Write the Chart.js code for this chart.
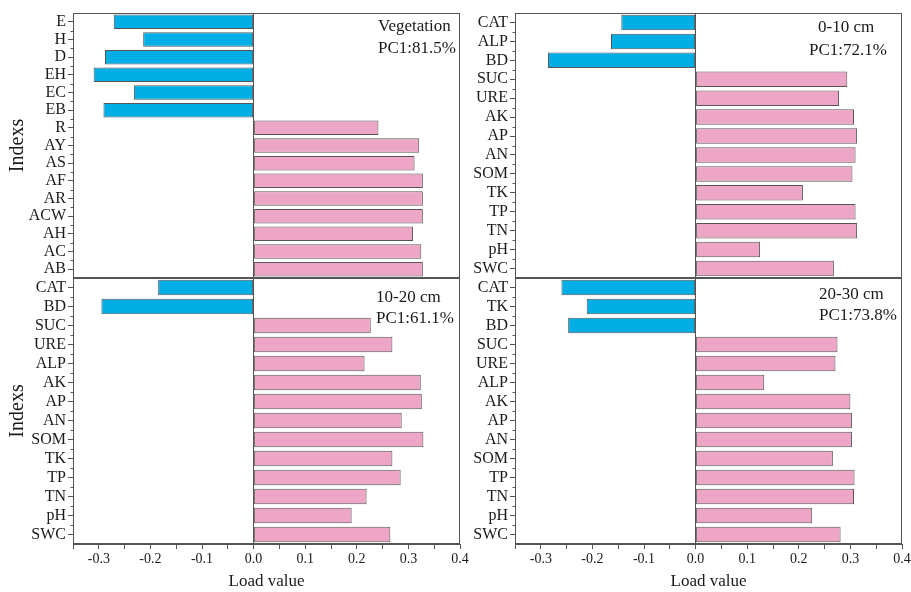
<!DOCTYPE html>
<html><head><meta charset="utf-8">
<script src="https://cdn.jsdelivr.net/npm/chart.js@4.4.1/dist/chart.umd.min.js"></script>
<style>
html,body{margin:0;padding:0;background:#fff;width:911px;height:592px;overflow:hidden}
canvas{position:absolute;display:block}
</style></head><body>
<canvas id="c1" width="466" height="290" style="left:0;top:0;width:466px;height:290px"></canvas>
<canvas id="c2" width="445" height="290" style="left:466px;top:0;width:445px;height:290px"></canvas>
<canvas id="c3" width="480" height="332" style="left:0;top:260px;width:480px;height:332px"></canvas>
<canvas id="c4" width="445" height="332" style="left:466px;top:260px;width:445px;height:332px"></canvas>
<script>
// ---- data ----
const vegLabels = ['E','H','D','EH','EC','EB','R','AY','AS','AF','AR','ACW','AH','AC','AB'];
const vegValues = [-0.271,-0.214,-0.288,-0.310,-0.232,-0.291,0.242,0.321,0.312,0.328,0.328,0.328,0.309,0.325,0.328];
const s010Labels = ['CAT','ALP','BD','SUC','URE','AK','AP','AN','SOM','TK','TP','TN','pH','SWC'];
const s010Values = [-0.144,-0.164,-0.286,0.294,0.278,0.307,0.313,0.310,0.304,0.208,0.310,0.313,0.125,0.268];
const s1020Labels = ['CAT','BD','SUC','URE','ALP','AK','AP','AN','SOM','TK','TP','TN','pH','SWC'];
const s1020Values = [-0.185,-0.295,0.227,0.269,0.215,0.324,0.326,0.287,0.329,0.269,0.285,0.219,0.190,0.265];
const s2030Labels = ['CAT','TK','BD','SUC','URE','ALP','AK','AP','AN','SOM','TP','TN','pH','SWC'];
const s2030Values = [-0.260,-0.211,-0.247,0.275,0.271,0.133,0.300,0.303,0.303,0.266,0.308,0.307,0.226,0.281];
const panelNotes = [['Vegetation','PC1:81.5%'],['0-10 cm','PC1:72.1%'],['10-20 cm','PC1:61.1%'],['20-30 cm','PC1:73.8%']];
const xMin = -0.35, xMax = 0.4, xStep = 0.05;
const xTitle = 'Load value', yTitle = 'Indexs';

// ---- style ----
const BLUE = '#00AEE6', PINK = '#EDA6C6', EDGE = '#555', AXIS = '#555', TXT = '#1a1a1a';
const SERIF = '"Liberation Serif","Times New Roman",serif';

const framePlugin = {
  id: 'frame',
  afterDraw(chart, args, opts) {
    const {ctx, chartArea: a} = chart;
    ctx.save();
    ctx.strokeStyle = AXIS; ctx.lineWidth = 1;
    ctx.strokeRect(Math.round(a.left) + 0.5, Math.round(a.top) + 0.5, Math.round(a.right - a.left) - 1, Math.round(a.bottom - a.top) - 1);
    // minor ticks on the category axis, between categories
    const ys = chart.scales.y, n = chart.data.labels.length;
    const x0 = Math.round(a.left) + 0.5;
    ctx.beginPath();
    for (let i = 0; i < n - 1; i++) {
      const yy = Math.round((ys.getPixelForValue(i) + ys.getPixelForValue(i + 1)) / 2) + 0.5;
      ctx.moveTo(x0, yy); ctx.lineTo(x0 - 3, yy);
    }
    ctx.stroke();
    ctx.fillStyle = TXT; ctx.font = '17px ' + SERIF; ctx.textAlign = 'left'; ctx.textBaseline = 'alphabetic';
    (opts.lines || []).forEach((t, i) => ctx.fillText(t, a.left + opts.dx[i], a.top + opts.dy[i]));
    ctx.restore();
  }
};

function makeChart(id, labels, values, o) {
  new Chart(document.getElementById(id), {
    type: 'bar',
    data: { labels: labels, datasets: [{
      data: values,
      backgroundColor: values.map(v => v < 0 ? BLUE : PINK),
      borderColor: EDGE, borderWidth: 1, borderSkipped: false,
      barPercentage: 0.82, categoryPercentage: 1
    }]},
    options: {
      indexAxis: 'y', responsive: false, animation: false, devicePixelRatio: 1,
      layout: { padding: o.padding },
      plugins: { legend: {display: false}, tooltip: {enabled: false},
        frame: { lines: o.lines, dx: o.dx, dy: o.dy } },
      scales: {
        x: {
          type: 'linear', min: xMin, max: xMax,
          ticks: { display: o.showX, stepSize: xStep, autoSkip: false, maxRotation: 0, padding: 2, color: TXT,
            font: {family: SERIF, size: 14},
            callback: (v) => { const k = Math.round(v * 100); return (k % 10 === 0) ? (k / 100).toFixed(1) : ''; } },
          grid: { drawOnChartArea: true, drawTicks: o.showX, tickLength: 5, tickColor: AXIS,
            color: (c) => (c.tick && Math.abs(c.tick.value) < 1e-9) ? AXIS : 'rgba(0,0,0,0)' },
          border: { display: o.showX, color: AXIS },
          title: { display: o.showX, text: xTitle, color: TXT, font: {family: SERIF, size: 17}, padding: {top: 0, bottom: 0} },
          afterFit: (s) => { s.height = o.xHeight; s.paddingLeft = 0; s.paddingRight = 0; }
        },
        y: {
          type: 'category', offset: true,
          ticks: { autoSkip: false, padding: 2, color: TXT, font: {family: SERIF, size: 16} },
          grid: { offset: false, drawOnChartArea: false, tickLength: 5, tickColor: AXIS },
          border: { display: true, color: AXIS },
          title: { display: o.showY, text: yTitle, color: TXT, font: {family: SERIF, size: 20}, padding: {top: 6, bottom: 0} },
          afterFit: (s) => { s.width = o.yWidth; }
        }
      }
    },
    plugins: [framePlugin]
  });
}

makeChart('c1', vegLabels, vegValues, { padding: {top: 13, right: 6, bottom: 0, left: 0}, showX: false, showY: true, xHeight: 12, yWidth: 73,
  lines: panelNotes[0], dx: [305, 305], dy: [18, 40] });
makeChart('c2', s010Labels, s010Values, { padding: {top: 13, right: 9, bottom: 0, left: 0}, showX: false, showY: false, xHeight: 12, yWidth: 49,
  lines: panelNotes[1], dx: [303, 294], dy: [19, 42] });
makeChart('c3', s1020Labels, s1020Values, { padding: {top: 18, right: 20, bottom: 0, left: 0}, showX: true, showY: true, xHeight: 48, yWidth: 73,
  lines: panelNotes[2], dx: [303, 303], dy: [24, 45] });
makeChart('c4', s2030Labels, s2030Values, { padding: {top: 18, right: 9, bottom: 0, left: 0}, showX: true, showY: false, xHeight: 48, yWidth: 49,
  lines: panelNotes[3], dx: [304, 304], dy: [21, 42] });
</script>
</body></html>
